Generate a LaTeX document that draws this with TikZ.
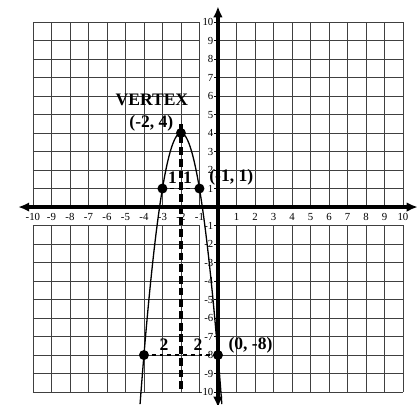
\documentclass[tikz,border=0pt]{standalone}
\usepackage{fontspec}
\setmainfont{Liberation Serif}
\usetikzlibrary{arrows.meta}

\begin{document}
\begin{tikzpicture}[
  x=0.5cm,y=0.5cm,
  gridline/.style={line width=0.6pt,black!75},
  axisline/.style={line width=2.8pt,{Latex[length=3mm,width=2.6mm]}-{Latex[length=3mm,width=2.6mm]}},
  curve/.style={line width=1pt},
  dot/.style={circle,fill=black,inner sep=0pt,minimum size=2.7mm},
  tick/.style={font=\fontsize{8.3}{9}\selectfont,inner sep=0.5pt},
  lbl/.style={font=\fontsize{13.5}{15}\selectfont\bfseries,inner sep=0pt}
]
  \useasboundingbox (-11.78,-10.65) rectangle (10.92,11.19);

  % grid, with the label strips left blank
  \draw[gridline,step=0.5cm] (-10,-10) grid (10,10);
  \fill[white] (-0.96,-10.3) rectangle (-0.04,10.3);
  \fill[white] (-10.3,-0.96) rectangle (10.3,-0.04);

  % axes
  \draw[axisline] (-10.8,0) -- (10.8,0);
  \draw[axisline] (0,-10.85) -- (0,10.85);

  % tick labels
  \foreach \k in {-10,...,-1,1,2,...,10} {
    \node[tick] (xl\k) at (\k,-0.55) {\k};
    \node[tick,anchor=east] (yl\k) at (-0.2,\k) {\k};
    \draw[line width=0.6pt] (yl\k.east) -- (0,\k);
  }

  % dashed guides
  \draw[dash pattern=on 6pt off 3pt,line width=2.6pt] (-2,4.5) -- (-2,-10);
  \draw[dashed,line width=0.9pt] (-3,1) -- (-1,1);
  \draw[dashed,line width=0.9pt] (-4,-8) -- (0,-8);

  % parabola y = -3(x+2)^2 + 4
  \draw[curve] plot[domain=-4.21:0.21,samples=120] (\x,{-3*(\x+2)^2+4});

  % points
  \node[dot] (vtx) at (-2,4) {};
  \node[dot] (pa) at (-3,1) {};
  \node[dot] (pb) at (-1,1) {};
  \node[dot] (pc) at (-4,-8) {};
  \node[dot] (pd) at (0,-8) {};

  % labels
  \node[lbl] (vname) at (-3.57,5.8) {VERTEX};
  \node[lbl] (vcoord) at (-3.6,4.55) {(-2, 4)};
  \node[lbl] (runa) at (-2.45,1.6) {1};
  \node[lbl] (runb) at (-1.65,1.6) {1};
  \node[lbl] (pbname) at (0.72,1.6) {(-1, 1)};
  \node[lbl] (runc) at (-2.92,-7.45) {2};
  \node[lbl] (rund) at (-1.08,-7.45) {2};
  \node[lbl] (pdname) at (1.76,-7.45) {(0, -8)};
\end{tikzpicture}
\end{document}
